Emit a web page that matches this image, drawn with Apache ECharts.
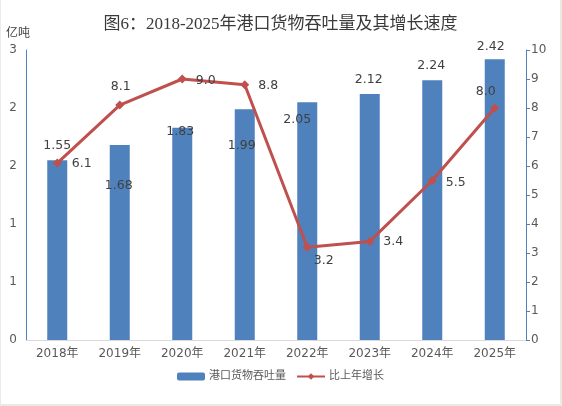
<!DOCTYPE html>
<html>
<head>
    <meta charset="UTF-8">
    <title>港口货物吞吐量</title>
    <script src="https://cdn.jsdelivr.net/npm/echarts@6/dist/echarts.min.js"></script>
    <style>
        html, body { margin: 0; padding: 0; background: #fff; }
        #main { width: 562px; height: 406px; box-sizing: border-box;
                border-left: 1px solid #ECEBE3; border-right: 2px solid #ECEBE3; border-bottom: 2px solid #ECEBE3; }
    </style>
</head>
<body>
<div id="main"></div>
<script>
    // 数据
    var years = ['2018年', '2019年', '2020年', '2021年', '2022年', '2023年', '2024年', '2025年'];
    var throughput = [1.55, 1.68, 1.83, 1.99, 2.05, 2.12, 2.24, 2.42];   // 亿吨
    var growth = [6.1, 8.1, 9.0, 8.8, 3.2, 3.4, 5.5, 8.0];              // %

    // 标签偏移（照原图摆放）
    var barLabelOffset = [[0, -8], [-1, 47], [-2, 10], [-3, 43], [-10, 24], [-1, -8], [-1, -8], [-4, -6]];
    var lineLabelPos = ['right', 'top', 'right', 'right', 'right', 'right', 'right', 'top'];
    var lineLabelOffset = [[5, 1], [1, -3], [4, 2], [4, 1], [-3, 14], [4, 0], [4, 2], [-9, 0]];

    var txt = '#404040';
    var font = 'DejaVu Sans, Noto Sans CJK SC, sans-serif';

    var chart = echarts.init(document.getElementById('main'));

    var option = {
        animation: false,
        textStyle: { fontFamily: font },
        title: {
            text: '图6：2018-2025年港口货物吞吐量及其增长速度',
            left: 'center',
            top: 11,
            textStyle: { fontFamily: 'Liberation Serif, Noto Sans CJK SC, serif', fontSize: 17, fontWeight: 'normal', color: '#3a3a3a' }
        },
        graphic: [{
            type: 'text', left: 5, top: 28,
            style: { text: '亿吨', fontSize: 12, fill: txt, fontFamily: font }
        }],
        grid: { left: 25, right: 34, top: 50, bottom: 64 },
        legend: {
            bottom: 17,
            left: 'center',
            itemWidth: 28,
            itemHeight: 8,
            itemGap: 10,
            textStyle: { fontSize: 11, color: '#595959', padding: [0, 0, 0, -1] },
            data: ['港口货物吞吐量', '比上年增长']
        },
        xAxis: {
            type: 'category',
            data: years,
            axisLine: { lineStyle: { color: '#D9D9D9' } },
            axisTick: { show: false },
            axisLabel: { color: '#595959', fontSize: 12, margin: 8 }
        },
        yAxis: [{
            type: 'value',
            min: 0, max: 2.5, interval: 0.5,
            axisLine: { show: true, lineStyle: { color: '#4F81BD' } },
            axisTick: { show: false },
            splitLine: { show: false },
            axisLabel: { color: '#595959', fontSize: 12, margin: 9,
                formatter: function (v) { return Math.round(v); } }
        }, {
            type: 'value',
            min: 0, max: 10, interval: 1,
            axisLine: { show: true, lineStyle: { color: '#4F81BD' } },
            axisTick: { show: true, length: 4, lineStyle: { color: '#4F81BD' } },
            splitLine: { show: false },
            axisLabel: { color: '#595959', fontSize: 12, margin: 5 }
        }],
        series: [{
            name: '港口货物吞吐量',
            type: 'bar',
            barWidth: 20,
            itemStyle: { color: '#4F81BD' },
            data: throughput.map(function (v, i) {
                return { value: v, label: { offset: barLabelOffset[i] } };
            }),
            label: { show: true, position: 'top', distance: 0, color: txt, fontSize: 12.5,
                formatter: function (p) { return p.value.toFixed(2); } }
        }, {
            name: '比上年增长',
            type: 'line',
            yAxisIndex: 1,
            symbol: 'diamond',
            symbolSize: 9,
            lineStyle: { color: '#C0504D', width: 3 },
            itemStyle: { color: '#C0504D' },
            data: growth.map(function (v, i) {
                return { value: v, label: { position: lineLabelPos[i], offset: lineLabelOffset[i] } };
            }),
            label: { show: true, distance: 5, color: txt, fontSize: 12.5,
                formatter: function (p) { return p.value.toFixed(1); } }
        }]
    };

    chart.setOption(option);
</script>
</body>
</html>
